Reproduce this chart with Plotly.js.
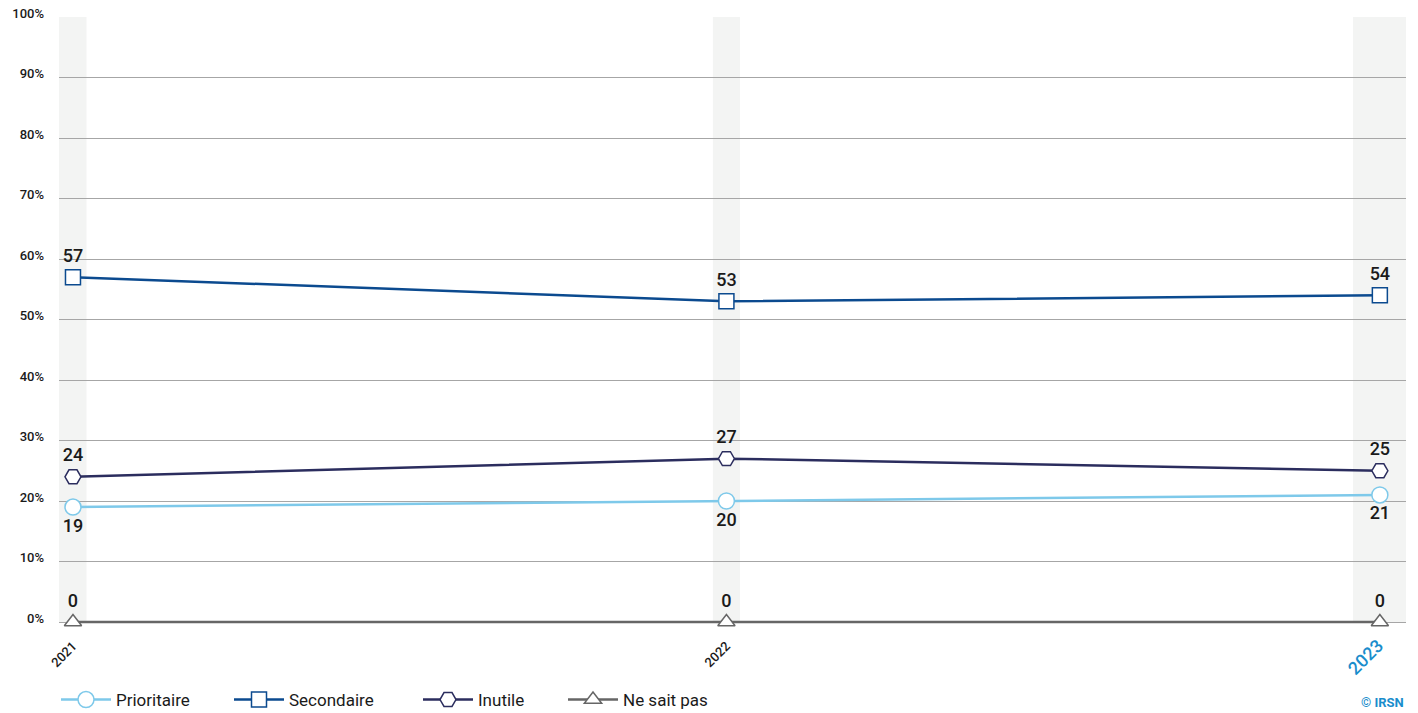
<!DOCTYPE html>
<html>
<head>
<meta charset="utf-8">
<script src="https://cdn.plot.ly/plotly-3.0.1.min.js"></script>
<style>html,body{margin:0;padding:0;background:#fff;}#chart{width:1418px;height:713px;}</style>
</head>
<body>
<div id="chart"></div>
<script>
const years = ['2021', '2022', '2023'];
const prioritaire = [19, 20, 21];
const secondaire = [57, 53, 54];
const inutile = [24, 27, 25];
const neSaitPas = [0, 0, 0];
const yTickVals = [0, 10, 20, 30, 40, 50, 60, 70, 80, 90, 100];
const yTickText = ['0%', '10%', '20%', '30%', '40%', '50%', '60%', '70%', '80%', '90%', '100%'];

const xIdx = years.map((_, i) => i);
const xTickText = years.map((y, i) => i === years.length - 1
  ? '<span style="color:#1a8dcc;font-size:18px">' + y + '</span>' : y);

function trace(name, vals, color, symbol, size, textpos, legendId) {
  return {
    type: 'scatter', mode: 'lines+markers+text', name: name, legend: legendId,
    x: xIdx, y: vals, text: vals.map(String), textposition: textpos,
    textfont: {family: 'Roboto, sans-serif', size: 18, color: '#1a1a1a', weight: 500},
    line: {color: color, width: 2.5},
    marker: {symbol: symbol, size: size, color: '#ffffff', line: {color: color, width: 1.5}},
    cliponaxis: false, hoverinfo: 'skip'
  };
}

const data = [
  trace('Prioritaire', prioritaire, '#7ec9ea', 'circle', 16, 'bottom center', 'legend'),
  trace('Secondaire', secondaire, '#0b4a8f', 'square', 15, 'top center', 'legend2'),
  trace('Inutile', inutile, '#2b2d5e', 'hexagon2', 16, 'top center', 'legend3'),
  trace('Ne sait pas', neSaitPas, '#666666', 'triangle-up', 15, 'top center', 'legend4')
];

const bandColor = '#f3f4f3';
const shapes = [
  {x0: -0.03, x1: 0.0207},
  {x0: 0.9793, x1: 1.0207},
  {x0: 1.959, x1: 2.05}
].map(b => ({type: 'rect', xref: 'x', yref: 'y', x0: b.x0, x1: b.x1, y0: 0, y1: 100,
  fillcolor: bandColor, line: {width: 0}, layer: 'below'}));

function legendAt(px) {
  return {orientation: 'h', xref: 'container', yref: 'container',
    x: px / 1418, xanchor: 'left', y: 13 / 713, yanchor: 'middle',
    font: {family: 'Roboto, sans-serif', size: 17, color: '#1a1a1a'},
    itemwidth: 50, bgcolor: 'rgba(0,0,0,0)', borderwidth: 0};
}

const layout = {
  width: 1418, height: 713,
  margin: {l: 59, r: 12, t: 17, b: 89},
  paper_bgcolor: '#ffffff', plot_bgcolor: '#ffffff',
  font: {family: 'Roboto, sans-serif', color: '#1a1a1a'},
  showlegend: true,
  legend: legendAt(56),
  legend2: legendAt(229),
  legend3: legendAt(418),
  legend4: legendAt(563),
  xaxis: {
    range: [-0.0214, 2.04], tickvals: xIdx, ticktext: xTickText, tickangle: -45,
    showgrid: false, zeroline: false, showline: false, ticks: '', ticklabelstandoff: 11,
    automargin: false,
    tickfont: {family: 'Roboto, sans-serif', size: 13, color: '#1a1a1a', weight: 500}
  },
  yaxis: {
    range: [-0.33, 100], tickvals: yTickVals, ticktext: yTickText,
    showgrid: true, gridcolor: '#a6a6a6', gridwidth: 1, zeroline: false, showline: false,
    ticks: '', ticklabelstandoff: 14, ticklabelshift: -4, automargin: false,
    tickfont: {family: 'Roboto, sans-serif', size: 13, color: '#1a1a1a', weight: 500}
  },
  shapes: shapes,
  annotations: [{
    xref: 'paper', yref: 'paper', x: 1, xanchor: 'right', y: -0.129, yanchor: 'middle',
    text: '© IRSN', showarrow: false,
    font: {family: 'Roboto, sans-serif', size: 13, color: '#1a8dcc', weight: 'bold'}
  }]
};

Plotly.newPlot('chart', data, layout, {displayModeBar: false, staticPlot: true});
</script>
</body>
</html>
